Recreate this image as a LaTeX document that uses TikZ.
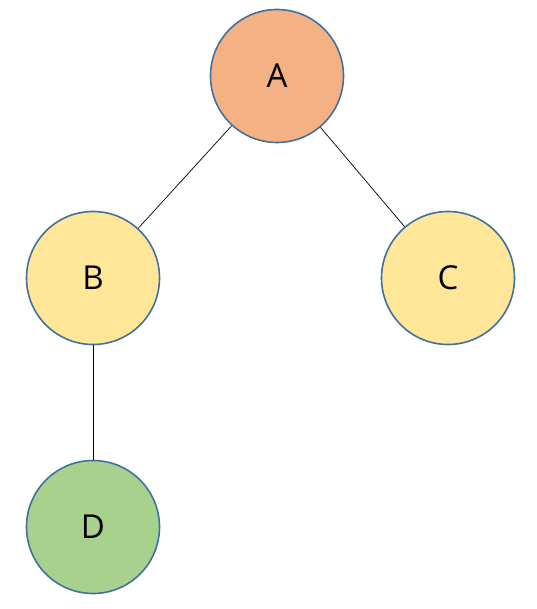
\documentclass[tikz,border=0pt]{standalone}
\usepackage{fontspec}
\setmainfont{Open Sans}
\definecolor{ringblue}{HTML}{41719C}
\definecolor{peach}{HTML}{F4B183}
\definecolor{butter}{HTML}{FFE699}
\definecolor{leaf}{HTML}{A9D18E}
\begin{document}
\begin{tikzpicture}[x=1pt,y=-1pt,
  treenode/.style={circle, draw=ringblue, line width=1.6pt, minimum size=133pt,
    inner sep=0pt, font=\fontsize{33}{33}\selectfont},
  branch/.style={draw=black, line width=0.7pt}]
  \useasboundingbox (0,0) rectangle (536,609);
  \node[treenode, fill=peach]  (A) at (277,76)  {A};
  \node[treenode, fill=butter] (B) at (93,278)  {B};
  \node[treenode, fill=butter] (C) at (448,278) {C};
  \node[treenode, fill=leaf]   (D) at (93,527)  {D};
  \draw[branch] (A) -- (B);
  \draw[branch] (A) -- (C);
  \draw[branch] (B) -- (D);
\end{tikzpicture}
\end{document}
